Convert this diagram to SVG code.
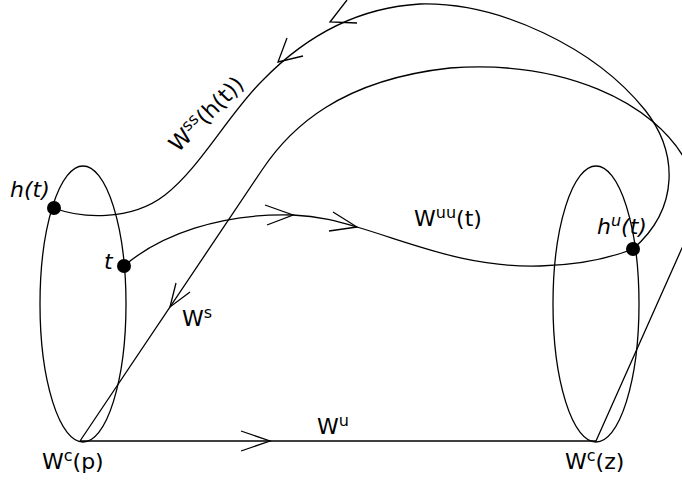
<svg xmlns="http://www.w3.org/2000/svg" width="682" height="480" viewBox="0 0 682 480">
<style>
.ln{fill:none;stroke:#000;stroke-width:1.3}
.ar{fill:none;stroke:#000;stroke-width:1.3;stroke-linejoin:miter}
.dot{fill:#000}
.t{font-family:"DejaVu Sans","Liberation Sans",sans-serif;font-size:22px;fill:#000}
.i{font-style:italic}
.sup{font-size:16px}
</style>
<g id="ellipse-p"><ellipse class="ln" cx="83" cy="304" rx="43" ry="138"/></g>
<g id="ellipse-z"><ellipse class="ln" cx="596" cy="304" rx="43" ry="138"/></g>
<g id="connectors">
<path id="Wu" class="ln" d="M80,441 L596,441"/>
<path id="Ws" class="ln" d="M80,441 L262,170 C290,128 340,80 450,68 C560,60 655,100 688,165 C705,200 700,215 682,248 L596,441"/>
<path id="Wss" class="ln" d="M54,208 C80,218 130,222 165,195 C200,168 230,112 263,80 C300,42 350,8 420,4 C500,2 595,48 645,110 C678,152 680,208 633,249"/>
<path id="Wuu" class="ln" d="M124,266 C160,235 220,213 293,215 C320,216 340,222 357,227 C420,246 470,268 540,266 C580,265 610,258 633,249"/>
<path class="ar" d="M241,431 L270,441 L241,451"/>
<path class="ar" d="M265,205 L293,215 L267,225"/>
<path class="ar" d="M333,212 L357,227 L329,231"/>
<path class="ar" d="M347,0 L330,22 L357,23"/>
<path class="ar" d="M287,38 L278,62 L303,56"/>
<path class="ar" d="M190,292 L170,307 L176,283"/>
</g>
<g id="pt-ht"><circle class="dot" cx="54" cy="208" r="7"/><text class="t i" x="10" y="197">h(t)</text></g>
<g id="pt-t"><circle class="dot" cx="124" cy="266" r="7"/><text class="t i" x="104" y="269">t</text></g>
<g id="pt-hut"><circle class="dot" cx="633" cy="249" r="7"/><text class="t i" x="597" y="234">h<tspan class="sup" dy="-8">u</tspan><tspan dy="8">(t)</tspan></text></g>
<g id="lbl-Wuu"><text class="t" x="414" y="226">W<tspan class="sup" dy="-8">uu</tspan><tspan dy="8">(t)</tspan></text></g>
<g id="lbl-Ws"><text class="t" x="182" y="326">W<tspan class="sup" dy="-8">s</tspan></text></g>
<g id="lbl-Wu"><text class="t" x="317" y="434">W<tspan class="sup" dy="-8">u</tspan></text></g>
<g id="lbl-Wss"><text class="t" transform="translate(178,153) rotate(-45)">W<tspan class="sup" dy="-8">ss</tspan><tspan dy="8">(h(t))</tspan></text></g>
<g id="lbl-Wcp"><text class="t" x="42" y="469">W<tspan class="sup" dy="-8">c</tspan><tspan dy="8">(p)</tspan></text></g>
<g id="lbl-Wcz"><text class="t" x="565" y="469">W<tspan class="sup" dy="-8">c</tspan><tspan dy="8">(z)</tspan></text></g>
</svg>
